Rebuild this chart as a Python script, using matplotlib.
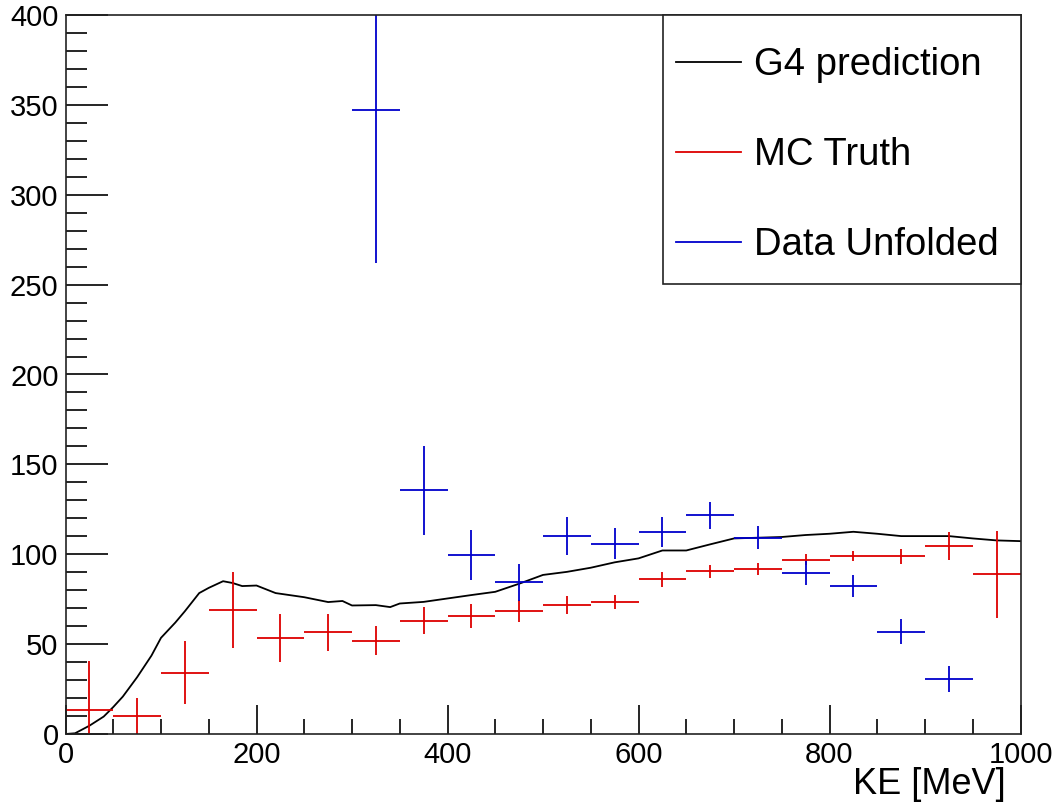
import numpy as np
import matplotlib
matplotlib.use('Agg')
import matplotlib.pyplot as plt
from matplotlib.lines import Line2D
from matplotlib.patches import Rectangle
from matplotlib.ticker import MultipleLocator

plt.rcParams['font.family'] = ['Liberation Sans', 'DejaVu Sans']

# bin centres, 50 MeV wide bins
bin_centres = [25, 75, 125, 175, 225, 275, 325, 375, 425, 475,
               525, 575, 625, 675, 725, 775, 825, 875, 925, 975]
bin_halfwidth = 25

# MC truth (red)
mc_truth = [13.5, 10.0, 34.0, 69.0, 53.5, 56.5, 52.0, 63.0, 65.5, 68.5,
            72.0, 73.5, 86.0, 90.5, 91.8, 97.0, 99.0, 98.8, 104.5, 88.8]
mc_truth_err = [27.0, 10.0, 17.5, 21.0, 13.3, 10.5, 8.0, 7.5, 6.6, 6.0,
                5.0, 4.0, 4.0, 3.5, 3.2, 3.2, 3.0, 4.0, 7.7, 24.0]

# unfolded data (blue), empty bins below 300 MeV and in the last bin
data_centres = [325, 375, 425, 475, 525, 575, 625, 675, 725, 775, 825, 875, 925]
data_unfolded = [347.0, 135.5, 99.5, 84.3, 110.2, 105.9, 112.5, 121.7,
                 109.3, 89.7, 82.3, 57.0, 30.8]
data_err = [85.0, 24.8, 13.9, 10.5, 10.6, 8.5, 8.2, 7.6, 6.5, 6.7, 6.3, 7.0, 7.2]

# G4 prediction curve (black)
g4_ke = [0, 10, 25, 40, 50, 60, 75, 90, 100, 115, 125, 140, 150, 165, 175,
         185, 200, 220, 250, 275, 290, 300, 325, 340, 350, 375, 400, 425,
         450, 475, 500, 525, 550, 575, 600, 625, 650, 675, 700, 725, 750,
         775, 800, 825, 850, 875, 900, 925, 950, 975, 1000]
g4_pred = [0.0, 0.4, 4.6, 9.7, 15.0, 20.8, 31.6, 43.6, 53.5, 62.0, 68.3,
           78.4, 81.3, 85.0, 84.0, 82.3, 82.6, 78.4, 76.1, 73.4, 74.0, 71.5,
           71.7, 70.6, 72.6, 73.5, 75.4, 77.3, 79.1, 83.6, 88.5, 90.2, 92.5,
           95.5, 97.7, 102.1, 102.1, 105.5, 108.8, 109.2, 109.6, 110.7, 111.4,
           112.5, 111.4, 110.1, 110.1, 110.1, 108.8, 107.7, 107.3]

red = '#dd0000'
blue = '#0000cc'

fig = plt.figure(figsize=(10.57, 8.05), dpi=100)
ax = fig.add_axes([65.5 / 1057, (805 - 734) / 805, 955 / 1057, 719 / 805])

ax.plot(g4_ke, g4_pred, color='black', lw=1.3)
ax.errorbar(bin_centres, mc_truth, xerr=bin_halfwidth, yerr=mc_truth_err,
            fmt='none', ecolor=red, elinewidth=1.3, capsize=0)
ax.errorbar(data_centres, data_unfolded, xerr=bin_halfwidth, yerr=data_err,
            fmt='none', ecolor=blue, elinewidth=1.3, capsize=0)

ax.set_xlim(0, 1000)
ax.set_ylim(0, 400)
ax.xaxis.set_major_locator(MultipleLocator(200))
ax.xaxis.set_minor_locator(MultipleLocator(50))
ax.yaxis.set_major_locator(MultipleLocator(50))
ax.yaxis.set_minor_locator(MultipleLocator(10))
ax.tick_params(axis='both', which='both', direction='in', labelsize=21,
               top=False, right=False, width=1.2)
ax.tick_params(axis='y', which='major', length=30, pad=5)
ax.tick_params(axis='y', which='minor', length=15)
ax.tick_params(axis='x', which='major', length=21, pad=5)
ax.tick_params(axis='x', which='minor', length=11)
for s in ax.spines.values():
    s.set_linewidth(1.2)
    s.set_color('#222222')

ax.text((1006 - 65.5) / 955, (734 - 794) / 719, 'KE [MeV]', fontsize=26,
        ha='right', va='baseline', transform=ax.transAxes)

# legend box like ROOT's TLegend
ax.add_patch(Rectangle((0.6257, 0.6259), 0.3749, 0.374, transform=ax.transAxes,
                       facecolor='white', edgecolor='#222222', lw=1.2,
                       clip_on=False, zorder=4))
handles = [Line2D([], [], color='black', lw=1.3),
           Line2D([], [], color=red, lw=1.3),
           Line2D([], [], color=blue, lw=1.3)]
labels = ['G4 prediction', 'MC Truth', 'Data Unfolded']
leg = ax.legend(handles, labels, loc='upper left',
                bbox_to_anchor=((676 - 65.5) / 955, (734 - 47) / 719),
                fontsize=27.5, frameon=False, borderpad=0,
                labelspacing=1.42, handlelength=1.7, handletextpad=0.35,
                borderaxespad=0)
leg.set_zorder(5)

fig.savefig('out.png', dpi=100)
